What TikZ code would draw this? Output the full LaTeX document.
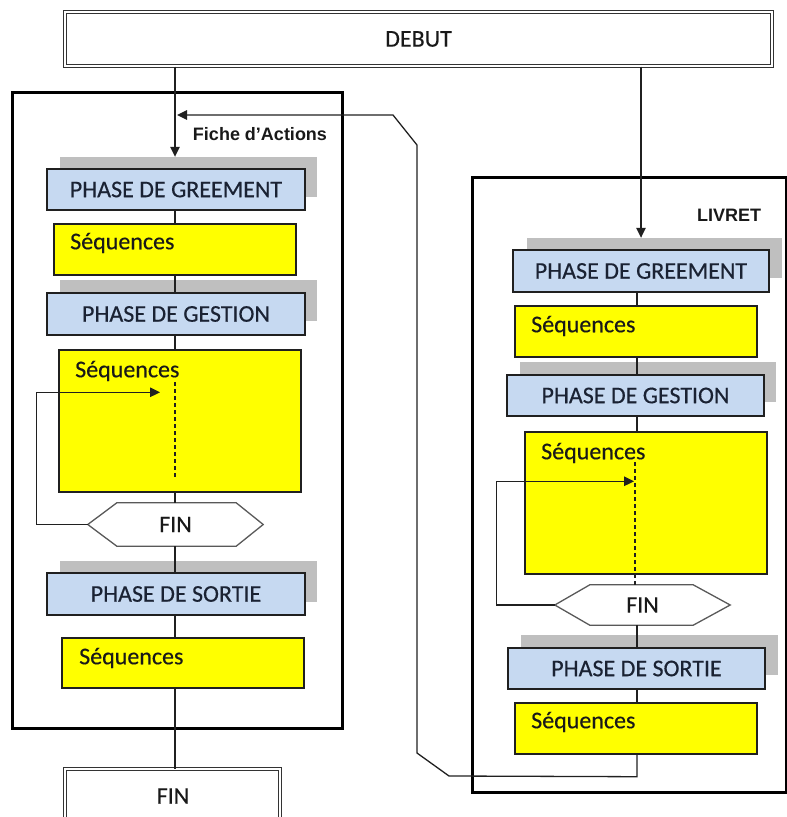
\documentclass[tikz,border=0pt]{standalone}
\usepackage{fontspec}
\setmainfont{Carlito}
\newfontfamily\arialfont{Liberation Sans}
\newfontfamily\semifont{Carlito}[FakeBold=0.35]
\usetikzlibrary{arrows.meta,calc}
\definecolor{phaseblue}{HTML}{C6D9F1}
\definecolor{shadowgray}{HTML}{BFBFBF}
\definecolor{seqyellow}{HTML}{FFFF00}
\definecolor{phasetext}{HTML}{1A2233}
\definecolor{linecol}{HTML}{202020}
\begin{document}
\begin{tikzpicture}[x=1pt,y=-1pt,
  shadowbox/.style={fill=shadowgray,draw=none,inner sep=0pt},
  phasebox/.style={draw=linecol,line width=1.4pt,fill=phaseblue,text=phasetext,inner sep=0pt,font=\semifont\fontsize{24}{28}\selectfont},
  seqbox/.style={draw=linecol,line width=1.4pt,fill=seqyellow,inner sep=0pt},
  seqtext/.style={anchor=west,inner sep=0pt,text=black!90,font=\semifont\fontsize{24}{28}\selectfont},
  hexlabel/.style={inner sep=0pt,text=black!90,font=\semifont\fontsize{24}{28}\selectfont},
  hexline/.style={draw=black!65,line width=1.3pt},
  outerbox/.style={draw=black,line width=3pt,inner sep=0pt},
  dblbox/.style={draw=black!80,line width=1pt,double=white,double distance=2.6pt,fill=white,inner sep=0pt,text=black!90,font=\semifont\fontsize{24}{28}\selectfont},
  lbl/.style={inner sep=0pt,text=black!90,font=\arialfont\bfseries\fontsize{18}{21}\selectfont},
  conn/.style={draw=linecol,line width=1.3pt},
  arr/.style={conn,-{Triangle[length=10pt,width=9.5pt]}},
  dashline/.style={draw=linecol,line width=1.3pt,dash pattern=on 4pt off 3pt}
]
\useasboundingbox (0,0) rectangle (787,817);
\clip (0,0) rectangle (787,817);

% outer frames
\node[outerbox,minimum width=330pt,minimum height=636pt] (outerL) at (177,410) {};
\node[outerbox,minimum width=314pt,minimum height=615pt] (outerR) at (629,484.5) {};

% DEBUT / FIN
\node[dblbox,minimum width=707pt,minimum height=54pt] (debut) at (418.5,39) {DEBUT};
\node[dblbox,minimum width=215pt,minimum height=60pt,text depth=0pt] (finbox) at (172.5,799) {};
\node[hexlabel] (fintxt) at (173,796) {FIN};

% shadows
\node[shadowbox,minimum width=257pt,minimum height=40pt] (sh1) at (188.5,177) {};
\node[shadowbox,minimum width=257pt,minimum height=41pt] (sh2) at (188.5,300.5) {};
\node[shadowbox,minimum width=257pt,minimum height=41pt] (sh3) at (188.5,581.5) {};
\node[shadowbox,minimum width=255pt,minimum height=40pt] (sh4) at (654.5,258) {};
\node[shadowbox,minimum width=256pt,minimum height=40pt] (sh5) at (648,382) {};
\node[shadowbox,minimum width=257pt,minimum height=40pt] (sh6) at (649.5,655) {};

% left column boxes
\node[phasebox,minimum width=258pt,minimum height=41pt] (pg1) at (176,189.5) {PHASE DE GREEMENT};
\node[seqbox,minimum width=242pt,minimum height=51pt] (s1) at (175,249.5) {};
\node[seqtext] (t1) at (70,243) {Séquences};
\node[phasebox,minimum width=258pt,minimum height=42pt] (pgest1) at (176,314) {PHASE DE GESTION};
\node[seqbox,minimum width=242pt,minimum height=142pt] (s2) at (180,421) {};
\node[seqtext] (t2) at (75,371) {Séquences};
\node[hexlabel,minimum width=175pt,minimum height=43pt] (fin1) at (175.5,524.5) {FIN};
\node[phasebox,minimum width=258pt,minimum height=42pt] (psort1) at (176,594) {PHASE DE SORTIE};
\node[seqbox,minimum width=242pt,minimum height=50pt] (s3) at (183,663) {};
\node[seqtext] (t3) at (79,658) {Séquences};

% right column boxes
\node[phasebox,minimum width=256pt,minimum height=42pt] (pg2) at (641,271) {PHASE DE GREEMENT};
\node[seqbox,minimum width=242pt,minimum height=51pt] (s4) at (636,331.5) {};
\node[seqtext] (t4) at (531,326) {Séquences};
\node[phasebox,minimum width=257pt,minimum height=41pt] (pgest2) at (635.5,395.5) {PHASE DE GESTION};
\node[seqbox,minimum width=242pt,minimum height=142pt] (s5) at (646,503) {};
\node[seqtext] (t5) at (541,453) {Séquences};
\node[hexlabel,minimum width=175pt,minimum height=40pt] (fin2) at (642.5,605) {FIN};
\node[phasebox,minimum width=257pt,minimum height=41pt] (psort2) at (636.5,668.5) {PHASE DE SORTIE};
\node[seqbox,minimum width=242pt,minimum height=51pt] (s6) at (636,728.5) {};
\node[seqtext] (t6) at (531,722) {Séquences};

% hexagons
\draw[hexline] (fin1.west) -- ([xshift=29pt]fin1.north west) -- ([xshift=-27pt]fin1.north east) -- (fin1.east) -- ([xshift=-27pt]fin1.south east) -- ([xshift=29pt]fin1.south west) -- cycle;
\draw[hexline] (fin2.west) -- ([xshift=35pt]fin2.north west) -- ([xshift=-37pt]fin2.north east) -- (fin2.east) -- ([xshift=-37pt]fin2.south east) -- ([xshift=35pt]fin2.south west) -- cycle;

% labels
\node[lbl] (fiche) at (260,134) {Fiche d’Actions};
\node[lbl] (livret) at (729,215) {LIVRET};

% left column connectors
\coordinate (lx) at (175,0);
\draw[arr] (debut.south -| lx) -- (sh1.north -| lx);
\draw[conn] (pg1.south -| lx) -- (s1.north -| lx);
\draw[conn] (s1.south -| lx) -- (pgest1.north -| lx);
\draw[conn] (pgest1.south -| lx) -- (s2.north -| lx);
\draw[dashline] ($(s2.north -| lx)+(0,33)$) -- ($(s2.south -| lx)+(0,-15)$);
\draw[conn] (s2.south -| lx) -- (fin1.north -| lx);
\draw[arr] (fin1.west) -- ++(-51,0) |- ($(s2.north -| lx)+(-15,43)$);
\draw[conn] (fin1.south -| lx) -- (psort1.north -| lx);
\draw[conn] (psort1.south -| lx) -- (s3.north -| lx);
\draw[conn] (s3.south -| lx) -- (finbox.north -| lx);

% right column connectors
\coordinate (rx) at (637,0);
\draw[arr] (debut.south -| pg2) -- (sh4.north -| pg2);
\draw[conn] (pg2.south -| rx) -- (s4.north -| rx);
\draw[conn] (s4.south -| rx) -- (pgest2.north -| rx);
\draw[conn] (pgest2.south -| rx) -- (s5.north -| rx);
\draw[dashline] ($(s5.north -| rx)+(-2,31)$) -- ($(fin2.north -| rx)+(-2,0)$);
\draw[arr] (fin2.west) -- ++(-58,0) |- ($(s5.north -| rx)+(-3,50)$);
\draw[conn] (fin2.south -| rx) -- (psort2.north -| rx);
\draw[conn] (psort2.south -| rx) -- (s6.north -| rx);

% feedback to Fiche d'Actions
\coordinate (fa) at (177,115);
\draw[arr] (s6.south -| rx) -- ++(0,22) -- (449,776) -- (417,753) -- (417,145) -- (393,115) -- (fa);
\end{tikzpicture}
\end{document}
